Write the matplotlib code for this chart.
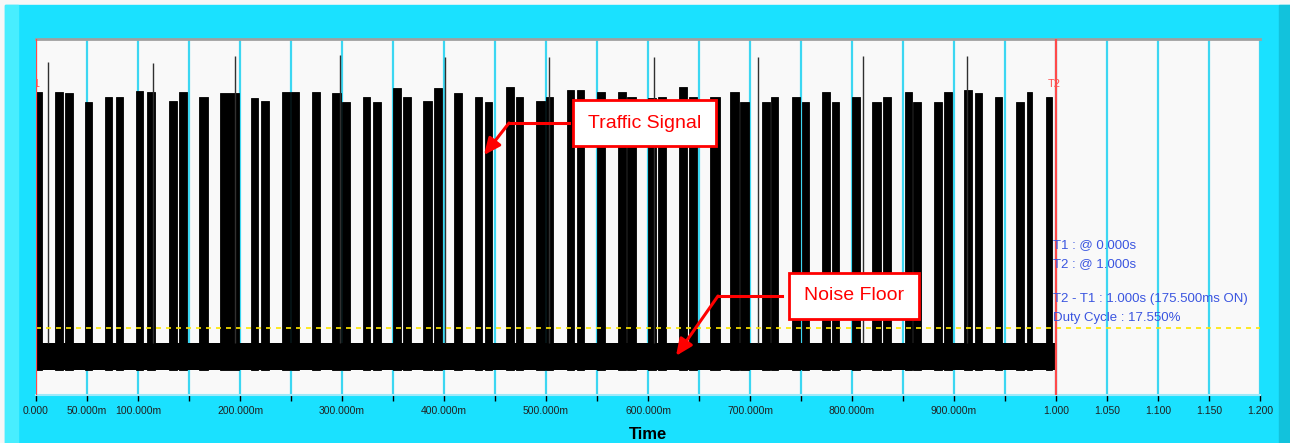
# plot.py
# Recreates a spectrum-analyser style "zero span" trace:
# traffic bursts over a noise floor, with T1/T2 cursors.

import numpy as np
import matplotlib
matplotlib.use("Agg")
import matplotlib.pyplot as plt
from matplotlib.patches import Rectangle

plt.rcParams["font.family"] = ["Liberation Sans", "DejaVu Sans"]

# -------------------------------------------------
# Data
# -------------------------------------------------
# burst start / end in ms and burst top level (arbitrary units, 0..100)
burst_start_ms = [0.0, 18.6, 28.4, 48.0, 67.6, 78.4, 98.0, 108.8, 130.4, 140.2,
                  159.8, 180.4, 210.8, 220.6, 241.2, 250.0, 270.6, 290.2, 300.0, 320.6,
                  330.4, 350.0, 359.8, 379.4, 390.2, 409.8, 430.4, 440.2, 460.8, 470.6,
                  490.2, 500.0, 520.6, 530.4, 550.0, 570.6, 579.4, 600.0, 609.8, 630.4,
                  640.2, 660.8, 680.4, 690.2, 711.8, 720.6, 741.2, 751.0, 770.6, 780.4,
                  800.0, 819.6, 830.4, 852.0, 859.8, 880.4, 890.2, 909.8, 920.6, 940.2,
                  960.8, 971.6, 990.2]
burst_end_ms = [5.9, 26.5, 36.3, 54.9, 74.5, 85.3, 104.9, 116.7, 138.2, 148.0,
                168.6, 199.0, 217.6, 228.4, 249.0, 257.8, 278.4, 299.0, 307.8, 327.5,
                338.2, 357.8, 367.6, 388.2, 398.0, 417.6, 437.3, 447.1, 468.6, 477.5,
                499.0, 506.9, 527.5, 537.3, 557.8, 578.4, 588.2, 607.8, 617.6, 638.2,
                648.0, 670.6, 689.2, 699.0, 719.6, 727.5, 749.0, 757.8, 778.4, 787.3,
                807.8, 828.4, 838.2, 858.8, 867.6, 888.2, 898.0, 917.6, 927.5, 947.1,
                968.6, 976.5, 996.1]
burst_top = [85.1, 85.1, 84.8, 82.3, 83.7, 83.7, 85.4, 85.1, 82.6, 85.1,
             83.7, 84.8, 83.4, 82.6, 85.1, 85.1, 85.1, 84.8, 82.3, 83.7,
             82.3, 86.2, 83.7, 82.6, 86.2, 84.8, 83.7, 82.3, 86.5, 83.7,
             82.6, 83.7, 85.7, 85.7, 85.1, 85.1, 83.7, 83.4, 83.7, 86.5,
             83.7, 83.7, 85.1, 82.3, 82.3, 83.7, 83.7, 82.3, 85.1, 82.3,
             83.7, 82.3, 83.7, 85.1, 82.3, 82.3, 85.1, 85.7, 84.8, 83.7,
             82.3, 85.1, 83.7]

# thin tall spikes
spike_ms = [11.8, 114.7, 195.1, 298.0, 401.0, 502.9, 605.9, 707.8, 810.8, 912.7]
spike_top = [93.5, 93.3, 95.3, 95.5, 94.9, 94.9, 94.9, 94.9, 95.2, 95.2]

# noise floor band and detection threshold
NOISE_LO = 7.0
NOISE_HI = 14.5
THRESHOLD = 18.8
TRACE_END = 1.0

# cursors
cursor_t = [0.0, 1.0]
cursor_names = ["T1", "T2"]

# x axis
tick_vals = [round(0.05 * i, 2) for i in range(25)]
tick_labels = ["0.000", "50.000m", "100.000m", "", "200.000m", "", "300.000m", "",
               "400.000m", "", "500.000m", "", "600.000m", "", "700.000m", "",
               "800.000m", "", "900.000m", "", "1.000", "1.050", "1.100", "1.150", "1.200"]

info_lines = ["T1 : @ 0.000s", "T2 : @ 1.000s",
              "T2 - T1 : 1.000s (175.500ms ON)", "Duty Cycle : 17.550%"]
info_y = [42.1, 36.8, 27.0, 21.6]

CYAN = "#1AE1FF"


def main():
    fig = plt.figure(figsize=(12.9, 4.43), dpi=100)
    fig.patch.set_facecolor("#F7F7F7")

    # cyan frame around the plot
    fig.add_artist(Rectangle((5 / 1290, 0), 1, 438 / 443, transform=fig.transFigure,
                             color=CYAN, zorder=-10))
    fig.add_artist(Rectangle((5 / 1290, 0), 13 / 1290, 438 / 443, transform=fig.transFigure,
                             color="#48EEFF", zorder=-9))
    fig.add_artist(Rectangle((1279 / 1290, 0), 11 / 1290, 438 / 443, transform=fig.transFigure,
                             color="#12C2DC", zorder=-9))

    ax = fig.add_axes([36 / 1290, 48 / 443, 1224 / 1290, 356 / 443])
    ax.set_facecolor("#F9F9F9")
    ax.set_xlim(0, 1.2)
    ax.set_ylim(0, 100)

    # grid
    ax.set_axisbelow(True)
    ax.grid(axis="x", color="#3CD7F2", linewidth=1.6)
    ax.grid(axis="y", visible=False)

    # noise floor
    ax.fill_between([0, TRACE_END], NOISE_LO, NOISE_HI, color="black", linewidth=0, zorder=2)

    # bursts
    s = np.array(burst_start_ms) / 1000
    e = np.array(burst_end_ms) / 1000
    top = np.array(burst_top)
    ax.bar(s, top - NOISE_LO, width=e - s, bottom=NOISE_LO, align="edge",
           color="black", edgecolor="black", linewidth=0.6, zorder=2)
    ax.vlines(np.array(spike_ms) / 1000, NOISE_HI, spike_top, color="#303030",
              linewidth=1.0, zorder=2)

    # threshold
    ax.axhline(THRESHOLD, color="#FFE600", linewidth=1.2, linestyle=(0, (3, 3)), zorder=3)

    # cursors
    for t, name in zip(cursor_t, cursor_names):
        ax.axvline(t, color="#FF4A4A", linewidth=1.6, zorder=4)
        ax.text(t - 0.002, 87.4, name, color="#FF5050", fontsize=8,
                ha="center", va="center", clip_on=True, zorder=4)

    # cursor readout
    for txt, y in zip(info_lines, info_y):
        ax.text(0.997, y, txt, color="#3A55E0", fontsize=9.5, ha="left", va="center", zorder=5)

    # callouts
    box = dict(boxstyle="square,pad=0.75", fc="white", ec="red", lw=2)
    head = dict(arrowstyle="-|>,head_length=1.0,head_width=0.45",
                color="red", lw=2.2, shrinkA=0, shrinkB=0)
    ax.text(0.5966, 76.4, "Traffic Signal", color="red", fontsize=14,
            ha="center", va="center", bbox=box, zorder=6)
    ax.plot([0.5225, 0.4637], [76.4, 76.4], color="red", lw=2.2, zorder=6)
    ax.annotate("", xy=(0.4392, 67.4), xytext=(0.4637, 76.4), arrowprops=head, zorder=6)

    ax.text(0.8020, 27.9, "Noise Floor", color="red", fontsize=14,
            ha="center", va="center", bbox=box, zorder=6)
    ax.plot([0.7314, 0.6686], [27.8, 27.8], color="red", lw=2.2, zorder=6)
    ax.annotate("", xy=(0.6275, 11.0), xytext=(0.6686, 27.8), arrowprops=head, zorder=6)

    # axes styling
    ax.set_xticks(tick_vals, tick_labels)
    ax.set_yticks([])
    ax.tick_params(axis="x", length=4, width=1, color="black", labelsize=7.5,
                   pad=4, labelcolor="#202020")
    for side in ["left", "right"]:
        ax.spines[side].set_visible(False)
    ax.spines["top"].set_color("#A0A0A0")
    ax.spines["top"].set_linewidth(2)
    ax.spines["bottom"].set_color("#9EEAFA")
    ax.spines["bottom"].set_linewidth(1.5)
    ax.set_xlabel("Time", fontsize=12, fontweight="bold", labelpad=8, color="black")

    fig.savefig("out.png", dpi=100)
    plt.close(fig)


if __name__ == "__main__":
    main()
